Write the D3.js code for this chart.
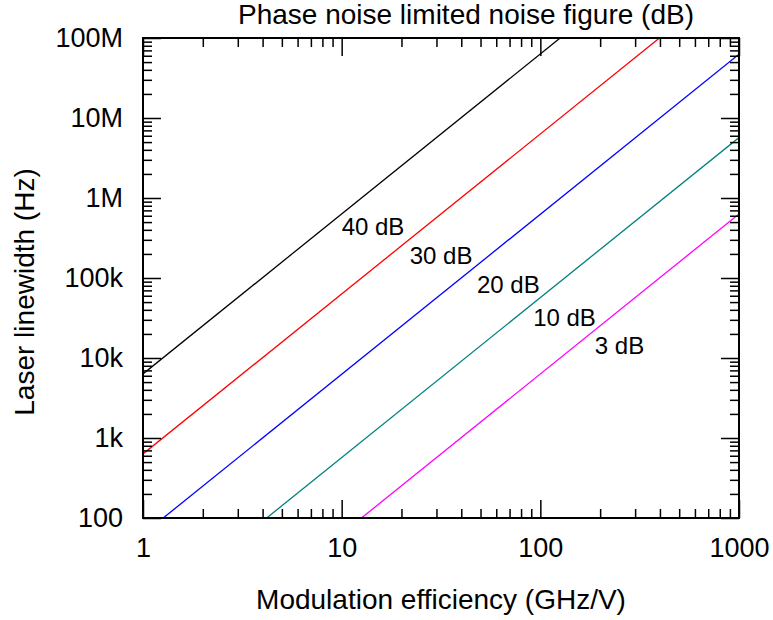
<!DOCTYPE html>
<html>
<head>
<meta charset="utf-8">
<script src="https://cdn.jsdelivr.net/npm/d3@7"></script>
<style>
  html, body { margin: 0; padding: 0; background: #fff; }
  text { font-family: "Liberation Sans", Arial, Helvetica, sans-serif; fill: #000; }
</style>
</head>
<body>
<script>
// ---- data ----
const efficiency = [1, 1000];                 // GHz/V, line end points
const seriesNames = ["40 dB", "30 dB", "20 dB", "10 dB", "3 dB"];
const lw40 = [6320, 6.32e9];                  // Hz at efficiency 1 and 1000
const lw30 = [632, 6.32e8];
const lw20 = [62.6, 6.26e7];
const lw10 = [5.69, 5.69e6];
const lw3  = [0.632, 6.32e5];
const seriesColors = ["#000000", "#ff0000", "#0000ff", "#008080", "#ff00ff"];
const labelEff = [10, 22, 48, 92, 188];       // label anchor (left, baseline)
const labelLw  = [3.45e5, 1.5e5, 6.5e4, 2.5e4, 1.12e4];
const xTickValues = [1, 10, 100, 1000];
const xTickLabels = ["1", "10", "100", "1000"];
const yTickValues = [100, 1e3, 1e4, 1e5, 1e6, 1e7, 1e8];
const yTickLabels = ["100", "1k", "10k", "100k", "1M", "10M", "100M"];
const title = "Phase noise limited noise figure (dB)";
const xLabel = "Modulation efficiency (GHz/V)";
const yLabel = "Laser linewidth (Hz)";

// ---- layout ----
const W = 773, H = 620;
const L = 143, R = 739, T = 38, B = 518;
const FS = 27, FSL = 28;

const svg = d3.select("body").append("svg").attr("width", W).attr("height", H);

const x = d3.scaleLog().domain([1, 1000]).range([L, R]);
const y = d3.scaleLog().domain([100, 1e8]).range([B, T]);

const minorX = [];
for (let d = 1; d < 1000; d *= 10) for (let k = 2; k <= 9; k++) minorX.push(d * k);
const minorY = [];
for (let d = 100; d < 1e8; d *= 10) for (let k = 2; k <= 9; k++) minorY.push(d * k);

// clip
svg.append("clipPath").attr("id", "clip").append("rect")
  .attr("x", L).attr("y", T).attr("width", R - L).attr("height", B - T);

// lines
const allSeries = [lw40, lw30, lw20, lw10, lw3];
const line = d3.line().x(d => x(d[0])).y(d => y(d[1]));
allSeries.forEach((s, i) => {
  svg.append("path")
    .attr("clip-path", "url(#clip)")
    .attr("d", line(efficiency.map((e, j) => [e, s[j]])))
    .attr("fill", "none").attr("stroke", seriesColors[i]).attr("stroke-width", 1.3);
});

// axes (ticks inward on all four sides)
function styleAxis(g) {
  g.select(".domain").remove();
  g.selectAll(".tick line").attr("stroke", "#000").attr("stroke-width", 1.5);
  g.selectAll(".tick text").attr("font-size", FS).attr("font-family", null);
  g.attr("font-family", null);
}
const fmtX = d => xTickLabels[xTickValues.indexOf(d)];
const fmtY = d => yTickLabels[yTickValues.indexOf(d)];

svg.append("g").attr("transform", `translate(0,${B})`)
  .call(d3.axisBottom(x).tickValues(xTickValues).tickFormat(fmtX).tickSize(-18).tickPadding(20)).call(styleAxis);
svg.append("g").attr("transform", `translate(0,${B})`)
  .call(d3.axisBottom(x).tickValues(minorX).tickFormat("").tickSize(-9)).call(styleAxis);
svg.append("g").attr("transform", `translate(0,${T})`)
  .call(d3.axisTop(x).tickValues(xTickValues).tickFormat("").tickSize(-18)).call(styleAxis);
svg.append("g").attr("transform", `translate(0,${T})`)
  .call(d3.axisTop(x).tickValues(minorX).tickFormat("").tickSize(-9)).call(styleAxis);

svg.append("g").attr("transform", `translate(${L},0)`)
  .call(d3.axisLeft(y).tickValues(yTickValues).tickFormat(fmtY).tickSize(-18).tickPadding(20)).call(styleAxis);
svg.append("g").attr("transform", `translate(${L},0)`)
  .call(d3.axisLeft(y).tickValues(minorY).tickFormat("").tickSize(-9)).call(styleAxis);
svg.append("g").attr("transform", `translate(${R},0)`)
  .call(d3.axisRight(y).tickValues(yTickValues).tickFormat("").tickSize(-18)).call(styleAxis);
svg.append("g").attr("transform", `translate(${R},0)`)
  .call(d3.axisRight(y).tickValues(minorY).tickFormat("").tickSize(-9)).call(styleAxis);

// frame
svg.append("rect").attr("x", L).attr("y", T).attr("width", R - L).attr("height", B - T)
  .attr("fill", "none").attr("stroke", "#000").attr("stroke-width", 2);

// line labels
seriesNames.forEach((n, i) => {
  svg.append("text").attr("x", x(labelEff[i])).attr("y", y(labelLw[i]))
    .attr("font-size", 24).text(n);
});

// titles
svg.append("text").attr("x", 466).attr("y", 24).attr("text-anchor", "middle")
  .attr("font-size", FSL).text(title);
svg.append("text").attr("x", (L + R) / 2).attr("y", 609).attr("text-anchor", "middle")
  .attr("font-size", FSL).text(xLabel);
svg.append("text").attr("transform", `translate(34,292) rotate(-90)`)
  .attr("text-anchor", "middle").attr("font-size", FSL).text(yLabel);
</script>
</body>
</html>
